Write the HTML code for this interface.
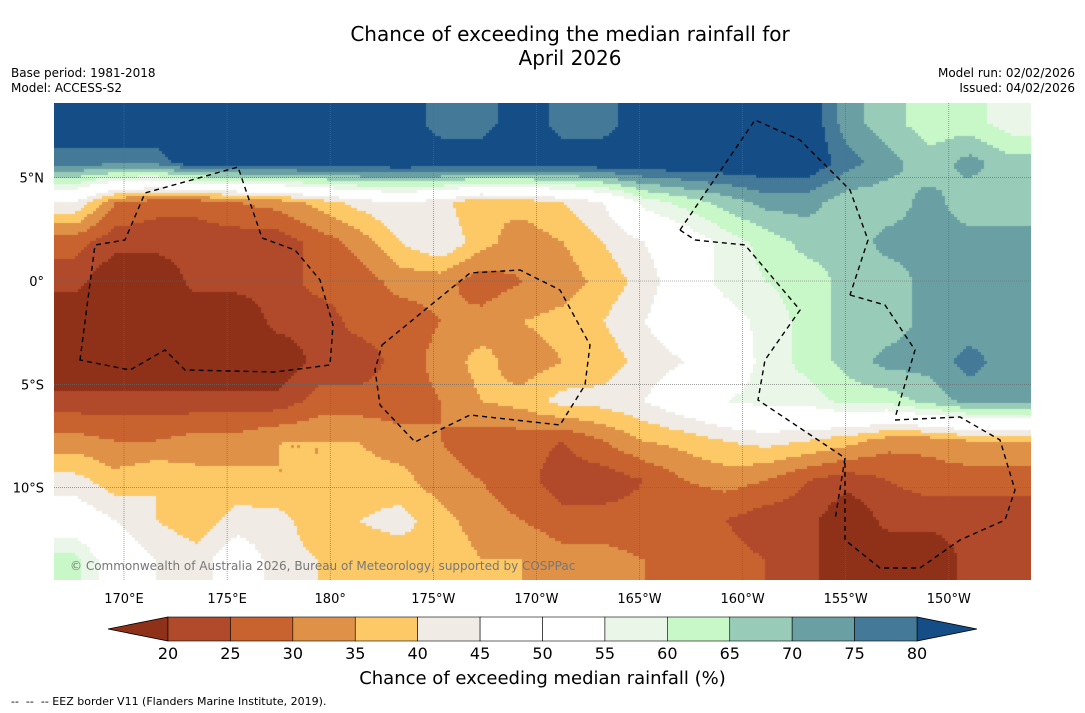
<!DOCTYPE html>
<html><head><meta charset="utf-8">
<style>
body{margin:0;background:#fff;font-family:"DejaVu Sans","Liberation Sans",sans-serif;}
#wrap{position:relative;width:1085px;height:713px;overflow:hidden;background:#fff;}
.t{position:absolute;white-space:nowrap;color:#000;}
</style></head>
<body>
<div id="wrap">
<div class="t" style="left:0;width:1140px;top:22px;text-align:center;font-size:20px;line-height:24px;">Chance of exceeding the median rainfall for<br>April 2026</div>
<div class="t" style="left:11px;top:66px;font-size:12px;line-height:15px;">Base period: 1981-2018<br>Model: ACCESS-S2</div>
<div class="t" style="right:10px;top:66px;font-size:12px;line-height:15px;text-align:right;">Model run: 02/02/2026<br>Issued: 04/02/2026</div>
<canvas id="map" width="977" height="477" style="position:absolute;left:54px;top:103px;"></canvas>
<svg id="ov" width="1085" height="713" style="position:absolute;left:0;top:0;"></svg>
<div class="t" style="left:70px;top:559px;font-size:12px;color:#777;">© Commonwealth of Australia 2026, Bureau of Meteorology, supported by COSPPac</div>
<div class="t" style="left:0;width:1085px;text-align:center;top:668px;font-size:18px;">Chance of exceeding median rainfall (%)</div>
<div class="t" style="left:11px;top:695px;font-size:11px;">-- &nbsp;-- &nbsp;-- EEZ border V11 (Flanders Marine Institute, 2019).</div>
</div>
<script>
const levels=[20,25,30,35,40,45,50,55,60,65,70,75,80];
const colors=["#8f3119","#b14a2a","#c8632f","#df9148","#fdc967","#f0ebe5","#ffffff","#ffffff","#e9f6e8","#c8f7c8","#98ccb8","#6aa0a3","#447a98","#154e87"];
const lonTicks=["170°E","175°E","180°","175°W","170°W","165°W","160°W","155°W","150°W"];
const lonVals=[170,175,180,185,190,195,200,205,210];
const latTicks=["5°N","0°","5°S","10°S"];
const latVals=[5,0,-5,-10];
const grid=[
[85,85,85,85,85,85,85,85,85,77,77,85,77,77,85,85,85,85,85,72,67,62,62,57],
[77,77,77,85,85,85,85,85,85,85,85,85,85,85,85,85,85,85,85,77,72,67,72,67],
[45,30,27,27,30,32,37,42,45,42,35,37,40,45,57,62,67,72,72,67,67,72,67,67],
[27,22,22,22,22,22,27,32,40,45,37,32,35,40,45,50,57,62,67,67,72,72,72,72],
[22,15,15,22,22,22,27,27,32,32,27,30,32,37,42,50,57,60,62,67,67,72,72,72],
[15,15,15,15,15,22,22,27,27,30,32,35,37,40,45,50,52,57,62,67,67,72,72,72],
[15,15,15,15,15,15,22,22,27,32,37,32,35,37,42,45,50,57,62,67,72,72,77,72],
[22,22,22,22,22,22,27,27,27,30,35,37,42,42,45,50,55,57,57,62,62,67,72,72],
[32,30,30,32,32,35,35,35,32,30,27,27,25,30,35,37,40,42,40,37,32,32,35,35],
[42,37,40,37,37,35,35,37,37,32,30,27,22,22,25,30,32,30,25,22,25,27,27,27],
[50,45,40,37,42,42,37,40,42,37,32,30,27,27,27,25,25,22,22,15,22,22,22,22],
[62,50,45,42,50,42,40,37,37,40,35,35,32,32,30,27,27,25,22,15,15,15,22,22]];
const MX=54,MY=103,MW=977,MH=477;
const lonX=l=>124+(l-170)*20.62;
const latY=l=>281-l*20.66;
function colorFor(v){let i=0;while(i<levels.length&&v>=levels[i])i++;return colors[i];}
const cv=document.getElementById('map'),cx=cv.getContext('2d');
const R=grid.length,C=grid[0].length,cw=MW/C,ch=MH/R,S=3;
for(let y=0;y<MH;y+=S)for(let x=0;x<MW;x+=S){
 let gx=Math.min(Math.max((x+S/2)/cw-0.5,0),C-1),gy=Math.min(Math.max((y+S/2)/ch-0.5,0),R-1);
 let x0=Math.floor(gx),y0=Math.floor(gy),x1=Math.min(x0+1,C-1),y1=Math.min(y0+1,R-1),fx=gx-x0,fy=gy-y0;
 let v=grid[y0][x0]*(1-fx)*(1-fy)+grid[y0][x1]*fx*(1-fy)+grid[y1][x0]*(1-fx)*fy+grid[y1][x1]*fx*fy;
 cx.fillStyle=colorFor(v);cx.fillRect(x,y,S,S);}
const ns='http://www.w3.org/2000/svg',ov=document.getElementById('ov');
function mk(t,a,p){const e=document.createElementNS(ns,t);for(const k in a)e.setAttribute(k,a[k]);(p||ov).appendChild(e);return e;}
const FF='DejaVu Sans,Liberation Sans,sans-serif';
lonVals.forEach((l,i)=>{const x=lonX(l);
 const g=mk('line',{x1:x,x2:x,y1:MY,y2:MY+MH,stroke:'#666','stroke-width':0.6,'stroke-dasharray':'1,1'});
 
 
 const t=mk('text',{x:x,y:603,'text-anchor':'middle','font-size':13,'font-family':FF});t.textContent=lonTicks[i];
 
 });
latVals.forEach((l,i)=>{const y=latY(l);
 const g=mk('line',{x1:MX,x2:MX+MW,y1:y,y2:y,stroke:'#666','stroke-width':0.6,'stroke-dasharray':'1,1'});
 
 
 const t=mk('text',{x:44,y:y+5,'text-anchor':'end','font-size':13,'font-family':FF});t.textContent=latTicks[i];
 
 });
const eez=["M80,360 L95,245 L125,240 L145,193 L238,167 L262,238 L295,250 L320,280 L333,325 L330,365 L275,372 L185,370 L165,350 L130,370 Z",
"M382,345 L470,273 L520,270 L560,290 L590,345 L585,385 L560,425 L470,415 L415,442 L380,405 L375,370 Z",
"M680,230 L755,120 L800,140 L850,190 L868,240 L850,295",
"M680,230 L695,240 L745,245 L800,310 L765,360 L758,400 L845,458 L835,520",
"M850,295 L885,305 L915,350 L895,418",
"M895,420 L960,417 L1000,440 L1015,490 L1005,520 L960,540 L920,568 L880,568 L845,540 L845,458"];
eez.forEach(d=>{const p=mk('path',{d:d,fill:'none',stroke:'#000','stroke-width':1.4,'stroke-dasharray':'5,4'});
 
 });
const cbX=168,cbW=749,cbY=617,cbH=24,bw=cbW/(levels.length-1);
const lt=mk('polygon',{points:`${cbX},${cbY} ${cbX},${cbY+cbH} 108,${cbY+cbH/2}`,fill:colors[0],stroke:'#000','stroke-width':0.8});


const rt=mk('polygon',{points:`${cbX+cbW},${cbY} ${cbX+cbW},${cbY+cbH} 977,${cbY+cbH/2}`,fill:colors[colors.length-1],stroke:'#000','stroke-width':0.8});


for(let i=0;i<levels.length-1;i++){
 const r=mk('rect',{x:cbX+i*bw,y:cbY,width:bw,height:cbH,fill:colors[i+1],stroke:'#000','stroke-width':0.6});
 
 }
levels.forEach((l,i)=>{const t=mk('text',{x:cbX+i*bw,y:659,'text-anchor':'middle','font-size':16,'font-family':FF});t.textContent=l;
 
 });
</script>
</body></html>
